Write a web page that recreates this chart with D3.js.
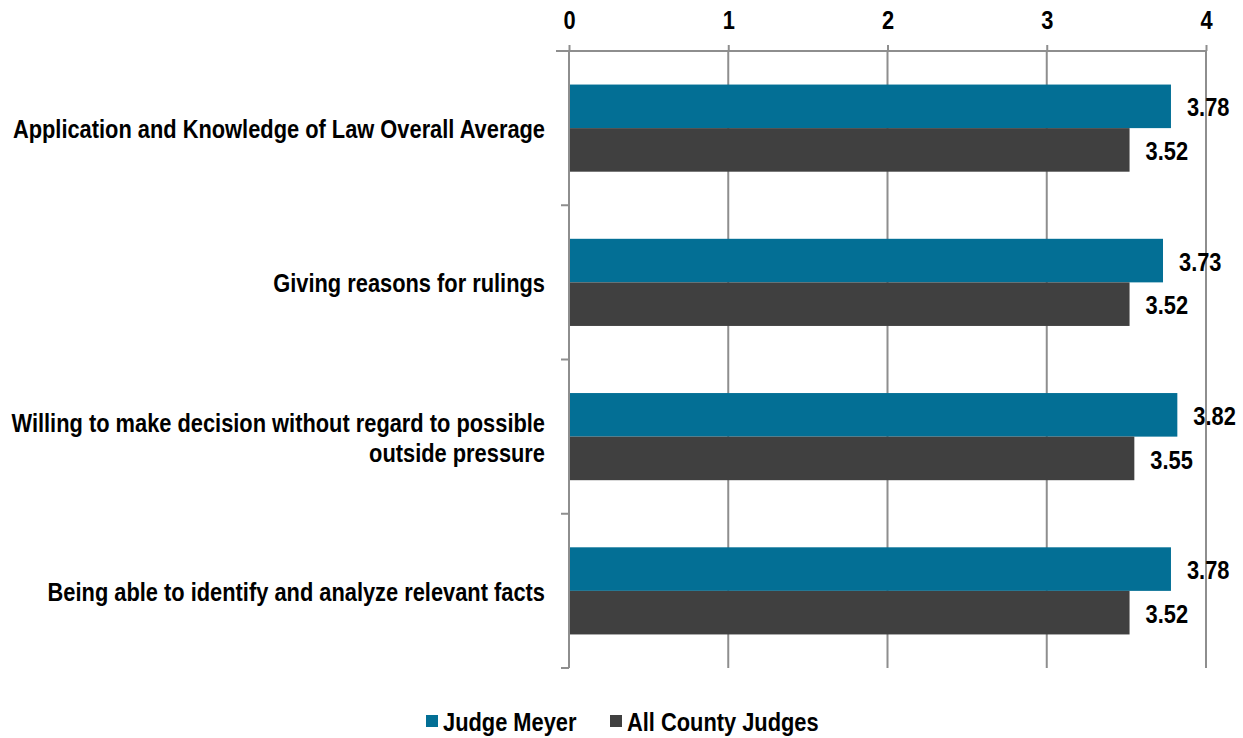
<!DOCTYPE html>
<html>
<head>
<meta charset="utf-8">
<script src="https://cdn.jsdelivr.net/npm/d3@7"></script>
<style>
  body { margin: 0; background: #fff; }
  svg { display: block; }
  text { font-family: "Liberation Sans", Arial, sans-serif; font-weight: bold; fill: #000; }
</style>
</head>
<body>
<script>
// chart data
var categories = [
  'Application and Knowledge of Law Overall Average',
  'Giving reasons for rulings',
  'Willing to make decision without regard to possible|outside pressure',
  'Being able to identify and analyze relevant facts'
];
var seriesNames = ['Judge Meyer', 'All County Judges'];
var meyerValues = [3.78, 3.73, 3.82, 3.78];
var countyValues = [3.52, 3.52, 3.55, 3.52];
var xTicks = [0, 1, 2, 3, 4];

var colors = { 'Judge Meyer': '#036f95', 'All County Judges': '#404040' };
var gridColor = '#8e8e8e';
var fontSize = '26px';
var narrow = 'scale(0.84,1)'; // fake a narrow bold face

var width = 1243, height = 738;
var plot = { left: 569, right: 1206, top: 51, bottom: 668 };

var svg = d3.select('body').append('svg')
  .attr('width', width)
  .attr('height', height);

// helper: condensed text placed at x,y
function narrowText(sel, px, py) {
  return sel.append('g')
    .attr('transform', 'translate(' + px + ',' + py + ') ' + narrow)
    .append('text')
    .style('font-size', fontSize);
}

// scales
var x = d3.scaleLinear().domain([0, 4]).range([plot.left, plot.right]);
var y = d3.scaleBand().domain(categories).range([plot.top, plot.bottom]).padding(0);
var ySub = d3.scaleBand().domain(seriesNames).range([0, y.bandwidth()])
  .paddingInner(0).paddingOuter(0.77);

// vertical gridlines
svg.append('g').selectAll('line')
  .data(xTicks)
  .enter().append('line')
  .attr('x1', function(d) { return x(d); })
  .attr('x2', function(d) { return x(d); })
  .attr('y1', plot.top)
  .attr('y2', plot.bottom)
  .attr('stroke', gridColor)
  .attr('stroke-width', 2);

// top axis
var xAxis = svg.append('g')
  .attr('transform', 'translate(0,' + plot.top + ')')
  .call(d3.axisTop(x).tickValues(xTicks).tickSize(6).tickPadding(16).tickFormat(d3.format('d')));
xAxis.select('.domain').attr('stroke', gridColor).attr('stroke-width', 2)
  .attr('d', 'M' + (plot.left - 13) + ',0H' + plot.right);
xAxis.selectAll('.tick line').attr('stroke', gridColor).attr('stroke-width', 2);
xAxis.selectAll('.tick text')
  .attr('transform', narrow)
  .style('font-size', fontSize)
  .style('font-family', '"Liberation Sans", Arial, sans-serif')
  .style('font-weight', 'bold')
  .attr('fill', '#000');

// left axis line with ticks at category boundaries
var boundaries = categories.map(function(c) { return y(c); }).concat([plot.bottom]);
var yAxisG = svg.append('g');
yAxisG.append('line')
  .attr('x1', plot.left).attr('x2', plot.left)
  .attr('y1', plot.top).attr('y2', plot.bottom)
  .attr('stroke', gridColor).attr('stroke-width', 2);
yAxisG.selectAll('.btick')
  .data(boundaries)
  .enter().append('line')
  .attr('class', 'btick')
  .attr('x1', plot.left - 8).attr('x2', plot.left)
  .attr('y1', function(d) { return d; })
  .attr('y2', function(d) { return d; })
  .attr('stroke', gridColor).attr('stroke-width', 2);

// bars
var rows = categories.map(function(c, i) {
  return { cat: c, values: [
    { name: seriesNames[0], value: meyerValues[i] },
    { name: seriesNames[1], value: countyValues[i] }
  ] };
});

var groups = svg.selectAll('.group')
  .data(rows)
  .enter().append('g')
  .attr('class', 'group')
  .attr('transform', function(d) { return 'translate(0,' + y(d.cat) + ')'; });

groups.selectAll('rect')
  .data(function(d) { return d.values; })
  .enter().append('rect')
  .attr('x', x(0) + 1)
  .attr('y', function(d) { return ySub(d.name); })
  .attr('width', function(d) { return x(d.value) - x(0) - 1; })
  .attr('height', ySub.bandwidth())
  .attr('fill', function(d) { return colors[d.name]; });

// value labels
groups.each(function(row) {
  var g = d3.select(this);
  row.values.forEach(function(d) {
    narrowText(g, x(d.value) + 16, ySub(d.name) + ySub.bandwidth() / 2 + 1)
      .attr('dy', '0.35em')
      .text(d.value.toFixed(2));
  });
});

// category labels
groups.each(function(d) {
  var lines = d.cat.split('|');
  var lh = 30;
  var t = narrowText(d3.select(this), plot.left - 24, y.bandwidth() / 2 + 1)
    .attr('text-anchor', 'end');
  lines.forEach(function(line, i) {
    t.append('tspan')
      .attr('x', 0)
      .attr('y', (i - (lines.length - 1) / 2) * lh)
      .attr('dy', '0.35em')
      .text(line);
  });
});

// legend
var legend = svg.append('g').attr('transform', 'translate(0,722)');
var legendX = [426, 610];
seriesNames.forEach(function(name, i) {
  var lg = legend.append('g').attr('transform', 'translate(' + legendX[i] + ',0)');
  lg.append('rect')
    .attr('x', 0).attr('y', -7)
    .attr('width', 12).attr('height', 12)
    .attr('fill', colors[name]);
  narrowText(lg, 17, 0)
    .attr('dy', '0.35em')
    .text(name);
});
</script>
</body>
</html>
